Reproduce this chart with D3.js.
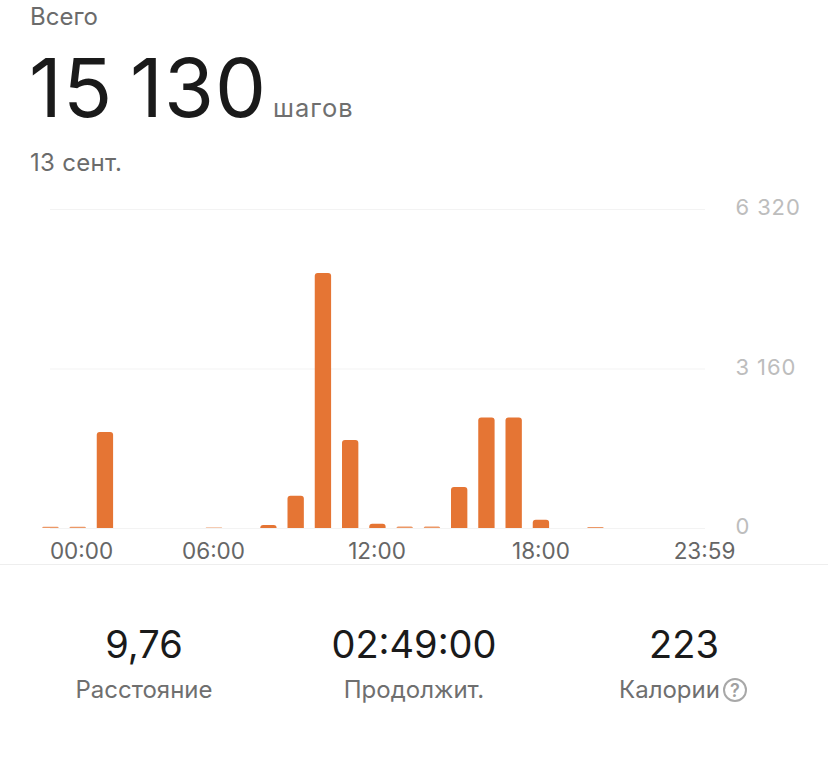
<!DOCTYPE html>
<html><head><meta charset="utf-8">
<script src="https://cdn.jsdelivr.net/npm/d3@7/dist/d3.min.js"></script>
<style>html,body{margin:0;padding:0;background:#fff}svg{display:block}text{font-family:Inter,"Noto Sans",sans-serif}</style>
</head><body><svg id="c" width="828" height="761"></svg>
<script>
const hours=d3.range(0,24);
const steps=[25,25,1900,0,0,0,10,0,60,640,5050,1745,85,30,30,810,2190,2190,165,0,20,0,0,0];
const yTicks=[0,3160,6320];
const yLabels=["0","3 160","6 320"];
const xTickHours=[0,6,12,18];
const xLabels=["00:00","06:00","12:00","18:00"];
const endLabel="23:59";
const stats=[["9,76","Расстояние"],["02:49:00","Продолжит."],["223","Калории"]];

const svg=d3.select("#c");
const x=d3.scaleBand().domain(hours).range([36.8,690.8]).paddingInner(0.4).paddingOuter(0.2);
const y=d3.scaleLinear().domain([0,6320]).range([528,209]);
const T=(s,px,py,size,fill,anchor="start",weight=400,ls=0)=>svg.append("text").text(s).attr("x",px).attr("y",py)
  .attr("font-size",size).attr("fill",fill).attr("text-anchor",anchor).attr("font-weight",weight).attr("letter-spacing",ls);

T("Всего",30,25,24,"#6b6b6b");
T("15 130",29,117,81,"#1a1a1a","start",400,1).style("word-spacing","-7px");
T("шагов",273,117,25.5,"#6f6f6f","start",400,1);
T("13 сент.",30,171,24,"#6b6b6b","start",400,0.3);

svg.append("g").selectAll("line").data(yTicks).join("line")
  .attr("x1",50).attr("x2",705).attr("y1",d=>y(d)+.5).attr("y2",d=>y(d)+.5).attr("stroke","#f3f3f3");

const yAxis=d3.axisRight(y).tickValues(yTicks).tickFormat((d,i)=>yLabels[i]).tickSize(0).tickPadding(0);
const gy=svg.append("g").attr("transform","translate(735.5,-0.5)").call(yAxis);
gy.select(".domain").remove();
gy.selectAll("text").attr("font-size",22).attr("fill","#bdbdbd").attr("dy",null).attr("y",0).attr("dominant-baseline","middle").attr("letter-spacing",0.9)
  .style("font-family",'Inter,"Noto Sans",sans-serif');

const round=3;
svg.append("g").selectAll("path").data(hours.filter(h=>steps[h]>0)).join("path")
 .attr("fill","#e57534").attr("fill-opacity",h=>steps[h]<40?0.75:1)
 .attr("d",h=>{const a=x(h),w=x.bandwidth(),t=y(steps[h]),b=y(0),r=Math.min(round,b-t);
   return `M${a},${b}V${t+r}Q${a},${t} ${a+r},${t}H${a+w-r}Q${a+w},${t} ${a+w},${t+r}V${b}Z`;});

const xa=d3.axisBottom(x).tickValues(xTickHours).tickFormat((d,i)=>xLabels[i]).tickSize(0).tickPadding(0);
const gx=svg.append("g").attr("transform","translate(0,540)").call(xa);
gx.select(".domain").remove();
gx.selectAll("text").attr("font-size",22.5).attr("fill","#666").attr("y",0).attr("dy","0.85em");
T(endLabel,704.5,559,22.5,"#666","middle");
// the tick labels sit apart from the bar centres in the reference
gx.selectAll(".tick").attr("transform",(d,i)=>`translate(${[81.5,213.5,377,541][i]},0)`);

svg.append("line").attr("x1",0).attr("x2",828).attr("y1",564.5).attr("y2",564.5).attr("stroke","#eeeeee");

[144,414,684].forEach((cx,i)=>{
  T(stats[i][0],cx,658,38,"#1a1a1a","middle");
  T(stats[i][1],i==2?669.5:cx,698,24,"#6f6f6f","middle");
});
svg.append("circle").attr("cx",735).attr("cy",690).attr("r",11).attr("fill","none").attr("stroke","#a8a8a8").attr("stroke-width",2);
T("?",735,697,18,"#a0a0a0","middle",600);
</script></body></html>
